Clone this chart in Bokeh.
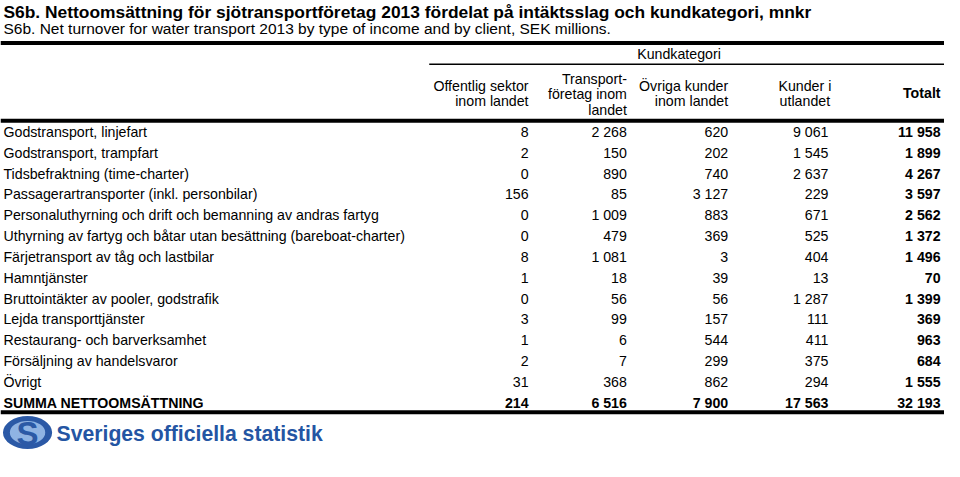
from bokeh.plotting import figure
from bokeh.models import Range1d, ColumnDataSource
from bokeh.core.properties import value
from bokeh.embed import file_html
from bokeh.resources import INLINE

# ---------------- data ----------------
title_sv = "S6b. Nettoomsättning för sjötransportföretag 2013 fördelat på intäktsslag och kundkategori, mnkr"
title_en = "S6b. Net turnover for water transport 2013 by type of income and by client, SEK millions."
group_header = "Kundkategori"
col_headers = [
    ["Offentlig sektor", "inom landet"],
    ["Transport-", "företag inom", "landet"],
    ["Övriga kunder", "inom landet"],
    ["Kunder i", "utlandet"],
    ["Totalt"],
]
categories = [
    "Godstransport, linjefart",
    "Godstransport, trampfart",
    "Tidsbefraktning (time-charter)",
    "Passagerartransporter (inkl. personbilar)",
    "Personaluthyrning och drift och bemanning av andras fartyg",
    "Uthyrning av fartyg och båtar utan besättning (bareboat-charter)",
    "Färjetransport av tåg och lastbilar",
    "Hamntjänster",
    "Bruttointäkter av pooler, godstrafik",
    "Lejda transporttjänster",
    "Restaurang- och barverksamhet",
    "Försäljning av handelsvaror",
    "Övrigt",
    "SUMMA NETTOOMSÄTTNING",
]
offentlig = [8, 2, 0, 156, 0, 0, 8, 1, 0, 3, 1, 2, 31, 214]
transportforetag = [2268, 150, 890, 85, 1009, 479, 1081, 18, 56, 99, 6, 7, 368, 6516]
ovriga = [620, 202, 740, 3127, 883, 369, 3, 39, 56, 157, 544, 299, 862, 7900]
utlandet = [9061, 1545, 2637, 229, 671, 525, 404, 13, 1287, 111, 411, 375, 294, 17563]
totalt = [11958, 1899, 4267, 3597, 2562, 1372, 1496, 70, 1399, 369, 963, 684, 1555, 32193]
logo_text = "Sveriges officiella statistik"

# ---------------- layout ----------------
W, H = 944, 461
REF_W, REF_H = 960, 477
FONT = "Liberation Sans"

p = figure(width=W, height=H, x_range=Range1d(0, REF_W), y_range=Range1d(REF_H, 0),
           output_backend="svg", toolbar_location=None, min_border=0,
           x_axis_location=None, y_axis_location=None)
p.grid.visible = False
p.outline_line_color = None
p.background_fill_color = "white"
p.border_fill_color = "white"

def add_text(xs, ys, texts, size, align="left", bold=False, color="black", baseline="middle"):
    src = ColumnDataSource(dict(x=xs, y=ys, t=texts))
    p.text(x="x", y="y", text="t", source=src, text_font=value(FONT),
           text_font_size=value(f"{size}px"), text_align=align, text_baseline=baseline,
           text_font_style="bold" if bold else "normal", text_color=color)

# titles
add_text([3], [12], [title_sv], 17.4, bold=True)
add_text([3], [28.5], [title_en], 15.5)

# rules
p.segment(x0=[0, 436, 0, 0], y0=[44, 66, 124.5, 426], x1=[960, 960, 960, 960],
          y1=[44, 66, 124.5, 426], line_color="black", line_width=[4, 1.6, 4, 4])

BODY = 14.2

# header
add_text([690], [55.5], [group_header], BODY, align="center")
col_x = [537, 637, 740, 842, 956]
hdr_x = [537, 637, 740, 818, 956]
hdr_align = ["right", "right", "right", "center", "right"]
for ci, lines in enumerate(col_headers):
    n = len(lines)
    if n == 3:
        ys = [81, 97, 113]
    elif n == 2:
        ys = [88, 104]
    else:
        ys = [96]
    add_text([hdr_x[ci]] * n, ys, lines, BODY, align=hdr_align[ci], bold=(n == 1))

# rows
row_y = [136 + 21.55 * i for i in range(len(categories))]
last = len(categories) - 1

def fmt(v):
    return f"{v:,}".replace(",", " ")

add_text([3] * last, row_y[:last], categories[:last], BODY)
add_text([3], [row_y[last]], [categories[last]], BODY, bold=True)

for ci, series in enumerate([offentlig, transportforetag, ovriga, utlandet]):
    add_text([col_x[ci]] * last, row_y[:last], [fmt(v) for v in series[:last]], BODY, align="right")
    add_text([col_x[ci]], [row_y[last]], [fmt(series[last])], BODY, align="right", bold=True)
add_text([col_x[4]] * len(totalt), row_y, [fmt(v) for v in totalt], BODY, align="right", bold=True)

# logo
p.ellipse(x=[27.5], y=[447], width=[50], height=[34], fill_color="#2b59a6", line_color=None)
p.ellipse(x=[27.5], y=[447], width=[36], height=[24], fill_color="#8fb3e3", line_color=None)
add_text([27.5], [448], ["S"], 33, align="center", bold=True, color="#2b59a6")
add_text([57], [448], [logo_text], 21.2, bold=True, color="#2455a3")

open("out.html", "w").write(file_html(p, INLINE))
